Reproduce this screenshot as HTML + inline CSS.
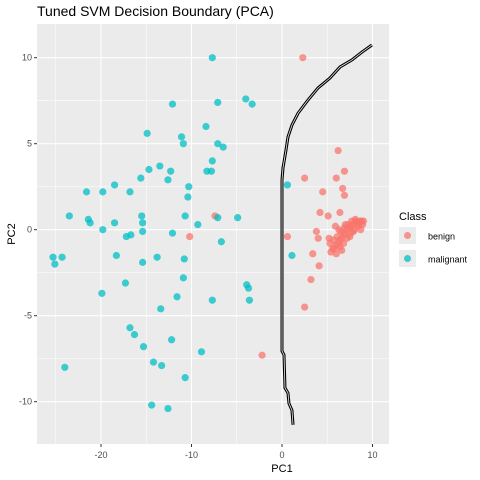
<!DOCTYPE html>
<html><head><meta charset="utf-8"><style>
body{margin:0;background:#fff;}
svg{display:block;font-family:"Liberation Sans",Arial,sans-serif;}
</style></head><body>
<svg id="chart" width="480" height="480">
<text x="37" y="16" font-size="14" fill="#000">Tuned SVM Decision Boundary (PCA)</text>
<rect x="37" y="24" width="352" height="420" fill="#ebebeb"/>
<g id="grid"></g><g id="boundary"></g><g id="points"></g><g id="axes"></g>
<text x="282" y="472" font-size="11" text-anchor="middle">PC1</text>
<text x="15" y="234" font-size="11" text-anchor="middle" transform="rotate(-90 15 234)">PC2</text>
<g>
<text x="399" y="220" font-size="11">Class</text>
<g><rect x="399" y="227" width="17" height="17" fill="#ebebeb"/><circle cx="407.5" cy="235.5" r="3.5" fill="#F8766D" fill-opacity="0.75"/><text x="428" y="239.5" font-size="9">benign</text></g>
<g><rect x="399" y="250" width="17" height="17" fill="#ebebeb"/><circle cx="407.5" cy="258.5" r="3.5" fill="#00BFC4" fill-opacity="0.75"/><text x="428" y="262.5" font-size="9">malignant</text></g>
</g>
</svg>
<script>
const xTicks=[-20,-10,0,10];
const yTicks=[-10,-5,0,5,10];
const malignantX=[-7.7,-12.1,-7.1,-4.0,-3.3,-14.9,-8.4,-11.1,-10.9,-7.1,-6.5,-7.7,-13.5,-8.3,-7.8,-14.7,-12.3,-15.6,-12.6,-18.5,-21.6,-19.8,-16.8,-10.3,-10.4,0.6,-23.5,-15.5,-10.7,-21.4,-21.2,-18.5,-19.8,-15.4,-15.4,-9.3,-7.1,-4.9,-12.1,-6.7,-17.2,-16.7,-25.3,-25.1,-24.3,-18.3,-15.4,-13.8,-10.8,1.1,-10.9,-17.3,-3.9,-3.7,-3.6,-19.9,-11.6,-7.7,-13.4,-16.8,-16.3,-12.2,-15.3,-8.9,-24.0,-13.3,-14.2,-10.7,-14.4,-12.6];
const malignantY=[10.0,7.3,7.4,7.6,7.3,5.6,6.0,5.4,5.0,5.0,4.8,4.0,3.7,3.4,3.4,3.5,3.4,3.0,2.9,2.6,2.2,2.2,2.2,2.5,1.9,2.6,0.8,0.8,0.8,0.6,0.4,0.4,0.0,0.4,-0.1,0.3,0.7,0.7,-0.2,-0.7,-0.4,-0.3,-1.6,-2.0,-1.6,-1.5,-1.9,-1.6,-1.7,-1.5,-2.8,-3.1,-3.2,-3.4,-4.1,-3.7,-3.9,-4.1,-4.6,-5.7,-6.1,-6.4,-6.8,-7.1,-8.0,-7.9,-7.7,-8.6,-10.2,-10.4];
const benignX=[2.3,6.2,2.5,6.0,6.9,4.5,6.7,6.9,4.2,5.1,6.4,0.6,3.8,4.0,5.2,3.4,4.1,3.2,2.5,-2.2,-10.2,-7.4,
5.4,5.6,5.8,6.0,6.2,6.4,6.6,6.8,7.0,7.2,7.4,7.6,7.8,8.0,8.2,8.4,8.6,8.8,9.0,5.7,6.1,6.5,6.9,7.3,7.7,8.1,8.5,8.9,6.0,6.4,6.8,7.2,7.6,8.0,8.4,5.3,6.3,7.0,7.5,8.7,6.6,5.9,7.9];
const benignY=[10.0,4.6,3.0,3.0,3.4,2.2,2.4,2.0,1.0,0.8,1.0,-0.4,-0.1,-0.5,-0.5,-1.4,-2.1,-2.9,-4.5,-7.3,-0.4,0.8,
-1.3,-1.1,-1.1,-0.9,-0.8,-0.6,-0.5,-0.3,-0.2,0.0,0.1,0.2,0.3,0.4,0.5,0.4,0.5,0.5,0.5,-0.6,-0.4,-0.1,0.1,0.3,0.5,0.6,0.3,0.3,-1.4,-1.0,-0.8,-0.5,-0.2,0.0,0.2,-0.8,0.0,0.3,-0.4,0.0,-1.2,0.2,-0.1];
const boundaryX=[9.94,8.84,7.73,6.41,5.30,3.98,2.87,1.77,1.10,0.66,0.44,0.11,0,0,0.22,0.33,0.66,0.77,1.10,1.22];
const boundaryY=[10.74,10.33,9.87,9.46,8.82,8.24,7.54,6.77,6.08,5.39,4.63,3.59,2.89,-7.05,-7.28,-9.2,-9.49,-10.1,-10.5,-11.35];
const xs=v=>282+9.05*v, ys=v=>229.7-17.2*v;
const NS="http://www.w3.org/2000/svg";
function mk(t,a,p){const e=document.createElementNS(NS,t);for(const k in a)e.setAttribute(k,a[k]);p.appendChild(e);return e;}
const grid=document.getElementById('grid'),axes=document.getElementById('axes');
for(let i=0;i<xTicks.length;i++){const v=xTicks[i];
 const l=mk('line',{x1:xs(v),x2:xs(v),y1:24,y2:444,stroke:'#fff','stroke-width':1.1},grid);
 
 
 const m=mk('line',{x1:xs(v-5),x2:xs(v-5),y1:24,y2:444,stroke:'#fff','stroke-width':0.5},grid);
 
 
 const t=mk('line',{x1:xs(v),x2:xs(v),y1:444,y2:447,stroke:'#333'},axes);
 
 
 const tx=mk('text',{x:xs(v),y:458,'font-size':9,'text-anchor':'middle',fill:'#4d4d4d'},axes);tx.textContent=v;
 
 }
{const m=mk('line',{x1:xs(5),x2:xs(5),y1:24,y2:444,stroke:'#fff','stroke-width':0.5},grid);
 
 }
for(let i=0;i<yTicks.length;i++){const v=yTicks[i];
 const l=mk('line',{x1:37,x2:389,y1:ys(v),y2:ys(v),stroke:'#fff','stroke-width':1.1},grid);
 
 
 const m=mk('line',{x1:37,x2:389,y1:ys(v-2.5),y2:ys(v-2.5),stroke:'#fff','stroke-width':0.5},grid);
 
 
 const t=mk('line',{x1:34,x2:37,y1:ys(v),y2:ys(v),stroke:'#333'},axes);
 
 
 const tx=mk('text',{x:32,y:ys(v)+3,'font-size':9,'text-anchor':'end',fill:'#4d4d4d'},axes);tx.textContent=v;
 
 }
{const m=mk('line',{x1:37,x2:389,y1:ys(10-(-2.5)*0+12.5-2.5-10+0),y2:ys(10),stroke:'none'},grid);}
{const m=mk('line',{x1:37,x2:389,y1:ys(7.5),y2:ys(7.5),stroke:'#fff','stroke-width':0.5},grid);
 
 }
const b=document.getElementById('boundary');
const d=boundaryX.map((x,i)=>(i?'L':'M')+xs(x)+' '+ys(boundaryY[i])).join(' ');
const p1=mk('path',{d:d,fill:'none',stroke:'#000','stroke-width':3},b);


const p2=mk('path',{d:d,fill:'none',stroke:'#ebebeb','stroke-width':0.8},b);


const pts=document.getElementById('points');
benignX.forEach((x,i)=>{const c=mk('circle',{cx:xs(x),cy:ys(benignY[i]),r:3.6,fill:'#F8766D','fill-opacity':0.75},pts);
 
 });
malignantX.forEach((x,i)=>{const c=mk('circle',{cx:xs(x),cy:ys(malignantY[i]),r:3.6,fill:'#00BFC4','fill-opacity':0.75},pts);
 
 });
</script>
</body></html>
